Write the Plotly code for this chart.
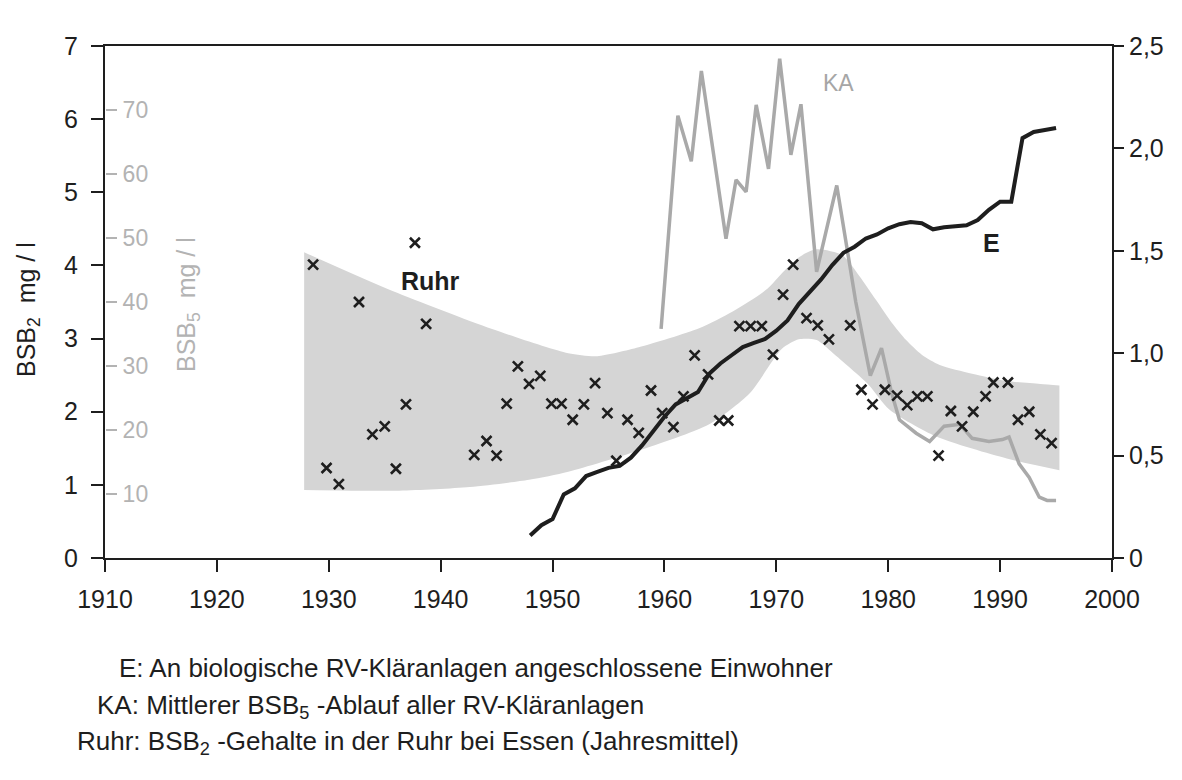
import plotly.graph_objects as go

# Ruhr: BSB2 annual means at Essen (mg/l)
RUHR_YEARS = [1928.6, 1929.8, 1930.9, 1932.7, 1933.9, 1935.0, 1936.0, 1936.9, 1937.7, 1938.7,
              1943.0, 1944.1, 1945.0, 1945.9, 1946.9, 1947.9, 1948.9, 1949.9, 1950.8, 1951.8,
              1952.8, 1953.8, 1954.9, 1955.7, 1956.7, 1957.7, 1958.8, 1959.8, 1960.8, 1961.7,
              1962.7, 1963.9, 1964.9, 1965.7, 1966.7, 1967.7, 1968.7, 1969.7, 1970.6, 1971.5,
              1972.7, 1973.7, 1974.7, 1976.6, 1977.6, 1978.6, 1979.7, 1980.8, 1981.7, 1982.6,
              1983.5, 1984.5, 1985.6, 1986.6, 1987.6, 1988.7, 1989.4, 1990.7, 1991.6, 1992.6,
              1993.6, 1994.6]
RUHR_BSB2 = [4.01, 1.23, 1.01, 3.50, 1.69, 1.80, 1.22, 2.10, 4.31, 3.20,
             1.41, 1.60, 1.40, 2.11, 2.62, 2.38, 2.49, 2.11, 2.11, 1.89,
             2.10, 2.39, 1.98, 1.33, 1.89, 1.71, 2.29, 1.98, 1.79, 2.21,
             2.77, 2.51, 1.88, 1.88, 3.17, 3.17, 3.17, 2.78, 3.60, 4.01,
             3.28, 3.18, 2.99, 3.18, 2.30, 2.10, 2.30, 2.22, 2.09, 2.21,
             2.21, 1.40, 2.01, 1.80, 2.00, 2.21, 2.40, 2.40, 1.89, 2.00,
             1.69, 1.57]

# Shaded range of the Ruhr values
BAND_UPPER_YEARS = [1927.8, 1935.7, 1944.6, 1951.4, 1954.0, 1957.7, 1963.1, 1966.1, 1969.2,
                    1970.6, 1972.1, 1973.6, 1975.9, 1977.4, 1978.9, 1980.3, 1981.6, 1983.0,
                    1984.6, 1987.5, 1990.6, 1993.6, 1995.3]
BAND_UPPER = [4.18, 3.65, 3.13, 2.80, 2.76, 2.88, 3.14, 3.37, 3.68,
              3.91, 4.12, 4.22, 4.14, 3.86, 3.53, 3.22, 2.98, 2.78,
              2.64, 2.52, 2.42, 2.38, 2.36]
BAND_LOWER_YEARS = [1927.8, 1936.3, 1942.6, 1947.9, 1951.4, 1957.7, 1964.0, 1967.6, 1970.5,
                    1972.0, 1973.6, 1975.0, 1976.5, 1978.3, 1980.1, 1984.3, 1990.6, 1995.3]
BAND_LOWER = [0.93, 0.92, 0.97, 1.07, 1.18, 1.47, 1.83, 2.25, 2.86,
              2.99, 2.98, 2.81, 2.61, 2.36, 2.03, 1.66, 1.36, 1.20]

# KA: mean BSB5 effluent of all RV treatment plants (mg/l)
KA_YEARS = [1959.7, 1961.2, 1962.4, 1963.3, 1965.5, 1966.4, 1967.3, 1968.2, 1969.3, 1970.3,
            1971.3, 1972.2, 1973.6, 1975.4, 1977.1, 1978.4, 1979.4, 1980.3, 1981.0, 1982.5,
            1983.7, 1985.0, 1986.4, 1987.5, 1989.0, 1990.2, 1990.8, 1991.7, 1992.6, 1993.5,
            1994.2, 1995.0]
KA_BSB5 = [35.8, 69.1, 62.0, 76.1, 49.9, 59.1, 57.2, 70.8, 60.8, 78.0,
           63.0, 70.9, 44.7, 58.2, 40.0, 28.5, 32.8, 25.8, 21.6, 19.5,
           18.2, 20.6, 20.9, 18.7, 18.2, 18.5, 18.9, 14.7, 12.6, 9.5,
           9.0, 9.0]

# E: inhabitants connected to biological RV treatment plants (millions)
E_YEARS = list(range(1948, 1996))
E_VALUES = [0.11, 0.16, 0.19, 0.31, 0.34, 0.40, 0.42, 0.44, 0.45, 0.49,
            0.55, 0.62, 0.69, 0.75, 0.78, 0.81, 0.90, 0.95, 0.99, 1.03,
            1.05, 1.07, 1.11, 1.16, 1.24, 1.30, 1.36, 1.43, 1.49, 1.52,
            1.56, 1.58, 1.61, 1.63, 1.64, 1.635, 1.605, 1.615, 1.62, 1.625,
            1.65, 1.70, 1.74, 1.74, 2.05, 2.08, 2.09, 2.10]

X_TICKS = [1910, 1920, 1930, 1940, 1950, 1960, 1970, 1980, 1990, 2000]
BSB2_TICKS = [0, 1, 2, 3, 4, 5, 6, 7]
BSB5_TICKS = [10, 20, 30, 40, 50, 60, 70]
E_TICKS = [0, 0.5, 1.0, 1.5, 2.0, 2.5]
E_TICK_TEXT = ["0", "0,5", "1,0", "1,5", "2,0", "2,5"]

W, H = 1182, 780
L, R, T, B = 105, 1112, 46, 558  # plot area edges in pixels

FONT = "Liberation Sans, Arial, Helvetica, sans-serif"
INK = "#1e1e1e"
GRAY_INK = "#b3b3b3"


def px(x, y):
    """Page pixel -> paper coordinates."""
    return (x - L) / (R - L), (B - y) / (B - T)


fig = go.Figure()

# shaded band: lower edge, then upper edge filled down to it
fig.add_trace(go.Scatter(
    x=BAND_LOWER_YEARS, y=BAND_LOWER, mode="lines",
    line=dict(width=0, shape="spline", smoothing=0.7),
    hoverinfo="skip", showlegend=False, yaxis="y"))
fig.add_trace(go.Scatter(
    x=BAND_UPPER_YEARS, y=BAND_UPPER, mode="lines", fill="tonexty",
    fillcolor="#d5d5d5", line=dict(width=0, shape="spline", smoothing=0.7),
    hoverinfo="skip", showlegend=False, yaxis="y"))

# KA line (BSB5 scale)
fig.add_trace(go.Scatter(
    x=KA_YEARS, y=KA_BSB5, mode="lines",
    line=dict(color="#a9a9a9", width=3.5),
    showlegend=False, yaxis="y2"))

# Ruhr annual means
fig.add_trace(go.Scatter(
    x=RUHR_YEARS, y=RUHR_BSB2, mode="markers",
    marker=dict(symbol="x-thin", size=10, line=dict(color=INK, width=2.6)),
    showlegend=False, yaxis="y3"))

# E line (right scale)
fig.add_trace(go.Scatter(
    x=E_YEARS, y=E_VALUES, mode="lines",
    line=dict(color=INK, width=4),
    showlegend=False, yaxis="y4"))

tick_font = dict(family=FONT, size=25, color=INK)

fig.update_layout(
    width=W, height=H,
    margin=dict(l=L, r=W - R, t=T, b=H - B),
    paper_bgcolor="white", plot_bgcolor="white",
    xaxis=dict(range=[1910, 2000], tickvals=X_TICKS, ticks="outside", ticklen=12,
               tickwidth=2, tickcolor=INK, showline=True, linecolor=INK, linewidth=2,
               mirror=True, showgrid=False, zeroline=False, tickfont=tick_font,
               ticklabelstandoff=6),
    yaxis=dict(range=[0, 7], tickvals=BSB2_TICKS, ticks="outside", ticklen=12,
               tickwidth=2, tickcolor=INK, showline=True, linecolor=INK, linewidth=2,
               showgrid=False, zeroline=False, tickfont=tick_font,
               ticklabelstandoff=8),
    # grey BSB5 scale drawn just inside the left edge
    yaxis2=dict(range=[0, 80], tickvals=BSB5_TICKS, overlaying="y", side="right",
                anchor="free", position=0, ticks="outside", ticklen=11, tickwidth=1.5,
                tickcolor=GRAY_INK, showline=False, showgrid=False, zeroline=False,
                ticklabelstandoff=1,
                tickfont=dict(family=FONT, size=23, color=GRAY_INK)),
    yaxis3=dict(range=[0, 7], overlaying="y", visible=False),
    yaxis4=dict(range=[0, 2.5], tickvals=E_TICKS, ticktext=E_TICK_TEXT, overlaying="y",
                side="right", anchor="x", ticks="outside", ticklen=10, tickwidth=2,
                tickcolor=INK, showline=True, linecolor=INK, linewidth=2,
                showgrid=False, zeroline=False, tickfont=tick_font),
)

# series labels
fig.add_annotation(x=1939.1, y=3.79, xref="x", yref="y", text="<b>Ruhr</b>",
                   showarrow=False, font=dict(family=FONT, size=25, color=INK))
fig.add_annotation(x=1975.6, y=6.5, xref="x", yref="y", text="KA",
                   showarrow=False, font=dict(family=FONT, size=23, color="#a6a6a6"))
fig.add_annotation(x=1989.2, y=4.31, xref="x", yref="y", text="<b>E</b>",
                   showarrow=False, font=dict(family=FONT, size=25, color=INK))

# axis titles
ax, ay = px(10, 310)
fig.add_annotation(x=ax, y=ay, xref="paper", yref="paper", textangle=-90,
                   text="BSB<sub>2</sub>  mg / l", showarrow=False,
                   font=dict(family=FONT, size=25, color=INK))
gx, gy = px(170, 305)
fig.add_annotation(x=gx, y=gy, xref="paper", yref="paper", textangle=-90,
                   text="BSB<sub>5</sub>  mg / l", showarrow=False,
                   font=dict(family=FONT, size=25, color=GRAY_INK))

# explanatory notes below the chart
notes = [
    (117, 668, "E: An biologische RV-Kläranlagen angeschlossene Einwohner"),
    (95, 706, "KA: Mittlerer BSB<sub>5</sub> -Ablauf aller RV-Kläranlagen"),
    (75, 742, "Ruhr: BSB<sub>2</sub> -Gehalte in der Ruhr bei Essen (Jahresmittel)"),
]
for nx, ny, txt in notes:
    x0, y0 = px(nx, ny)
    fig.add_annotation(x=x0, y=y0, xref="paper", yref="paper", xanchor="left",
                       yanchor="middle", text=txt, showarrow=False,
                       font=dict(family=FONT, size=26, color=INK))

fig.write_html("out.html")
